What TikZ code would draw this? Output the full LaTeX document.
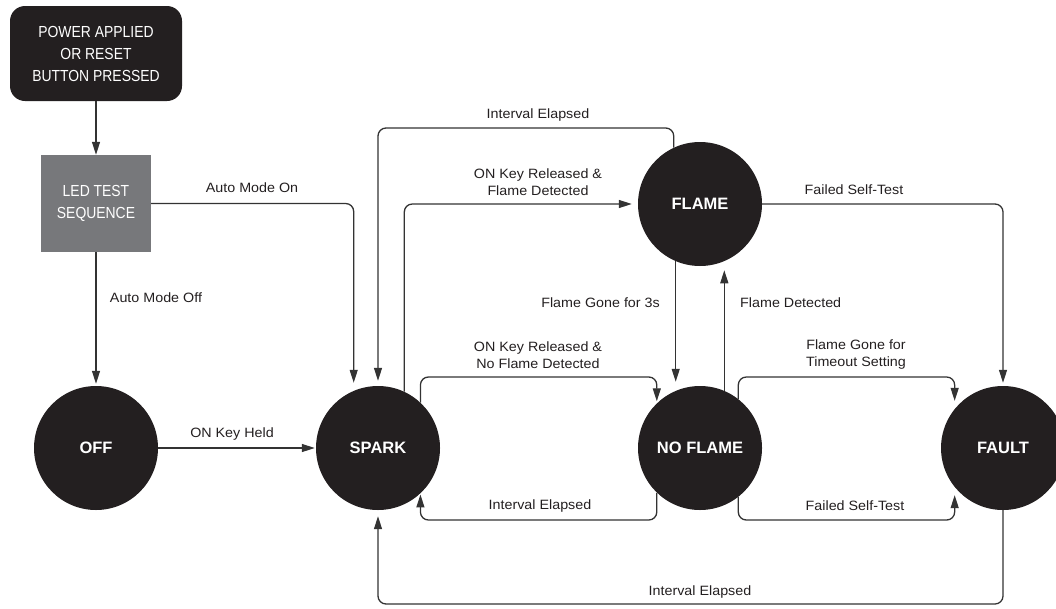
\documentclass[tikz,border=0pt]{standalone}
\usepackage{fontspec}
\setmainfont{Liberation Sans}
\newfontfamily\lblfont[FakeStretch=1.06]{Liberation Sans}
\newfontfamily\boxfont[FakeStretch=0.87]{Liberation Sans}
\usetikzlibrary{arrows.meta}
\definecolor{ink}{HTML}{231F20}
\definecolor{wire}{HTML}{333333}
\definecolor{ledgray}{HTML}{77787B}

\begin{document}
\begin{tikzpicture}[x=1pt,y=-1pt,
  state/.style={circle,fill=ink,minimum size=124pt,inner sep=0pt,text=white,
    font=\bfseries\fontsize{16.5}{18}\selectfont},
  startbox/.style={rectangle,rounded corners=15pt,fill=ink,minimum width=172pt,
    minimum height=95pt,text=white,align=center,inner sep=0pt,
    font=\boxfont\fontsize{16}{22}\selectfont},
  ledbox/.style={rectangle,fill=ledgray,minimum width=110pt,minimum height=97pt,
    text=white,align=center,inner sep=0pt,font=\boxfont\fontsize{16}{22}\selectfont},
  conn/.style={draw=wire,line width=1.3pt,rounded corners=8pt,
    -{Triangle[length=13pt,width=8pt]}},
  lbl/.style={text=ink,font=\lblfont\fontsize{13.5}{17}\selectfont,align=center,inner sep=0pt}]

\useasboundingbox (0,0) rectangle (1056,608);

% start and test boxes
\node[startbox] (power) at (96,53.5) {POWER APPLIED\\OR RESET\\BUTTON PRESSED};
\node[ledbox] (led) at (96,203.5) {LED TEST\\SEQUENCE};

% states
\node[state] (off) at (96,448) {OFF};
\node[state] (spark) at (378,448) {SPARK};
\node[state] (flame) at (700,204) {FLAME};
\node[state] (noflame) at (700,448) {NO FLAME};
\node[state] (fault) at (1003,448) {FAULT};

% levels of the routed connectors
\coordinate (rtop) at (0,128);
\coordinate (rup) at (0,377);
\coordinate (rlow) at (0,520);
\coordinate (rbot) at (0,604);

% transitions
\draw[conn] (power.south) -- (led.north);
\draw[conn,shorten >=8pt] (led.east) -| (spark.113);
\draw[conn,shorten >=2pt] (led.south) -- (off.north);
\draw[conn,shorten >=1pt] (off.east) -- (spark.west);
\draw[conn,shorten >=5pt] (flame.115) |- (spark.north |- rtop) -- (spark.north);
\draw[conn,shorten >=6pt] (spark.65) |- (flame.west);
\draw[conn,shorten >=9pt] (flame.-113) -- (noflame.113);
\draw[conn,shorten >=9pt] (noflame.67) -- (flame.-67);
\draw[conn,shorten >=3pt] (flame.east) -| (fault.north);
\draw[conn,shorten >=2pt] (spark.47) |- (noflame.134 |- rup) -- (noflame.134);
\draw[conn,shorten >=1pt] (noflame.-134) |- (spark.-47 |- rlow) -- (spark.-47);
\draw[conn,shorten >=8pt] (noflame.52) |- (fault.141 |- rup) -- (fault.141);
\draw[conn,shorten >=8pt] (noflame.-52) |- (fault.-141 |- rlow) -- (fault.-141);
\draw[conn,shorten >=6pt] (fault.south) |- (spark.south |- rbot) -- (spark.south);

% transition labels
\node[lbl] (lautoon) at (252,188) {Auto Mode On};
\node[lbl] (lautooff) at (156,298) {Auto Mode Off};
\node[lbl] (lheld) at (232,434) {ON Key Held};
\node[lbl] (lint1) at (538,115) {Interval Elapsed};
\node[lbl] (lrelf) at (538,182.5) {ON Key Released \&\\Flame Detected};
\node[lbl] (lfail1) at (854,190) {Failed Self-Test};
\node[lbl,anchor=east] (lgone) at (660,303) {Flame Gone for 3s};
\node[lbl,anchor=west] (ldet) at (740,303) {Flame Detected};
\node[lbl] (lrelnf) at (538,355) {ON Key Released \&\\No Flame Detected};
\node[lbl] (lint2) at (540,506) {Interval Elapsed};
\node[lbl] (ltimeout) at (856,355) {Flame Gone for\\Timeout Setting};
\node[lbl] (lfail2) at (855,506) {Failed Self-Test};
\node[lbl] (lint3) at (700,592) {Interval Elapsed};
\end{tikzpicture}
\end{document}
